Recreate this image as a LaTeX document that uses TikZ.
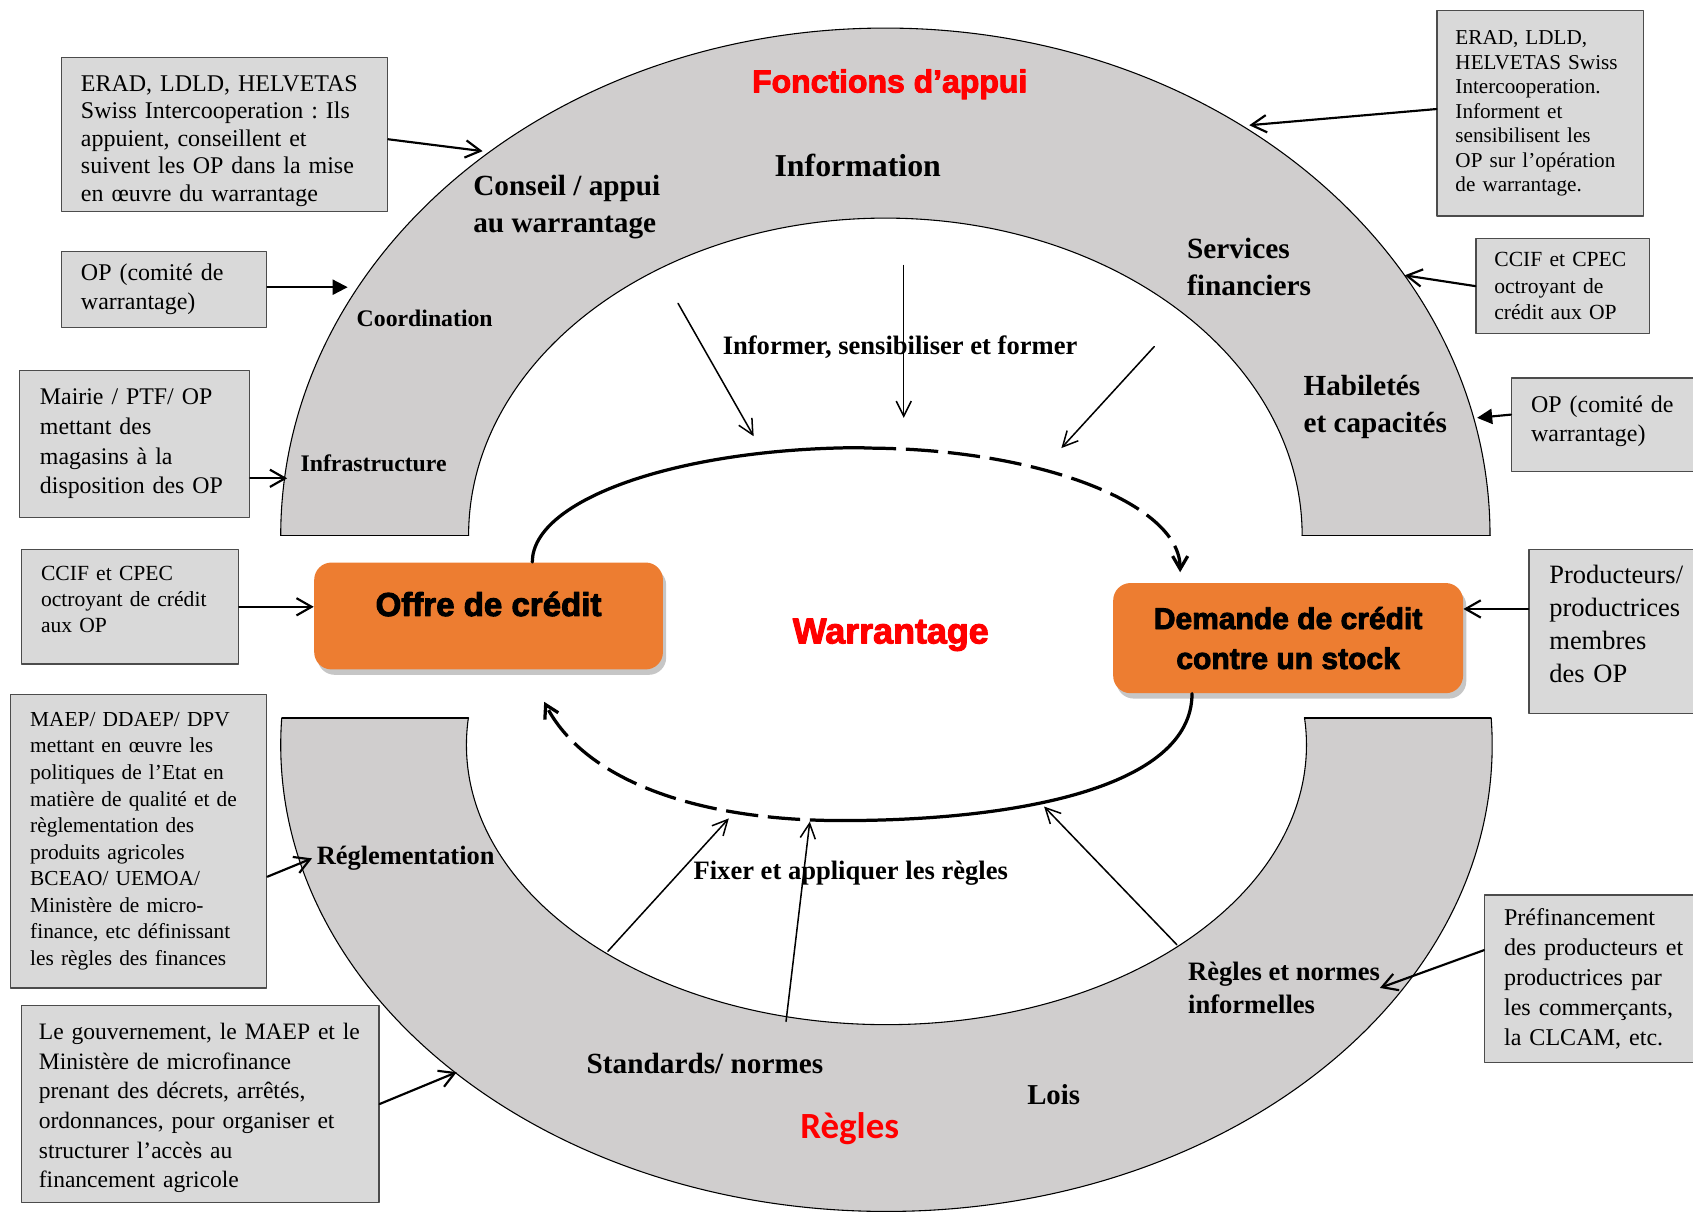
\documentclass[tikz,border=0pt]{standalone}
\usepackage{fontspec}
\setmainfont{Liberation Serif}
\newfontfamily\heavyfont[FakeBold=3]{Liberation Sans}
\newfontfamily\calibrifont{Carlito}
\usetikzlibrary{arrows.meta,shadows}
\definecolor{bandgray}{RGB}{208,206,206}
\definecolor{boxgray}{RGB}{217,217,217}
\definecolor{creditorange}{RGB}{237,125,49}
\newcommand\fsz[2]{\fontsize{#1}{#2}\selectfont}
\frenchspacing

\begin{document}
\begin{tikzpicture}[x=0.5pt, y=-0.5pt, line join=round, line cap=round,
	bandline/.style={line width=0.5pt},
	greybox/.style={draw=black!70, fill=boxgray, line width=0.6pt, align=left, inner xsep=9pt, inner ysep=0pt},
	creditbox/.style={fill=creditorange, rounded corners=8pt, align=center, inner sep=0pt,
		drop shadow={shadow xshift=1.5pt, shadow yshift=-2.5pt, opacity=0.45}},
	bandlabel/.style={anchor=west, align=left, inner sep=0pt},
	boxarrow/.style={-{Straight Barb[length=7pt,width=8pt]}, line width=1pt},
	fillhead/.style={-{Triangle[length=7pt,width=7pt]}},
	innerarrow/.style={-{Straight Barb[length=7pt,width=7pt]}, line width=0.7pt},
	cycleline/.style={line width=1.5pt},
	cycledash/.style={line width=1.5pt, line cap=butt, dash pattern=on 15pt off 4.5pt, -{Straight Barb[length=6pt,width=7pt]}}]
	\useasboundingbox (0,0) rectangle (1568,1122);
	\def\cxt{820} \def\cyt{496} \def\cxb{821} \def\cyb{690} % centres des deux bandes
	% bande du haut : fonctions d'appui
	\begin{scope}
		\clip (0,0) rectangle (1568,\cyt);
		\fill[bandgray, even odd rule] (\cxt,\cyt) ellipse[x radius=560, y radius=470] (\cxt,\cyt) ellipse[x radius=386, y radius=294];
		\draw[bandline] (\cxt,\cyt) ellipse[x radius=560, y radius=470] (\cxt,\cyt) ellipse[x radius=386, y radius=294];
	\end{scope}
	\draw[bandline] (260,\cyt)--(434,\cyt) (1206,\cyt)--(1380,\cyt);
	% bande du bas : regles
	\begin{scope}
		\clip (0,665) rectangle (1568,1122);
		\fill[bandgray, even odd rule] (\cxb,\cyb) ellipse[x radius=561, y radius=432] (\cxb,\cyb) ellipse[x radius=389, y radius=259];
		\draw[bandline] (\cxb,\cyb) ellipse[x radius=561, y radius=432] (\cxb,\cyb) ellipse[x radius=389, y radius=259];
	\end{scope}
	\draw[bandline] (261,665)--(434,665) (1208,665)--(1381,665);

	% offre et demande
	\node[creditbox, minimum width=161.5pt, minimum height=49.5pt, text height=8pt, text depth=8pt,
		font=\heavyfont\bfseries\fsz{15.3}{18}] (offre) at (452.5,570.5) {Offre de crédit};
	\node[creditbox, minimum width=162pt, minimum height=51pt, font=\heavyfont\bfseries\fsz{13.9}{18.5}] (demande) at (1193,591) {Demande de crédit\\contre un stock};

	% boites des acteurs
	\node[greybox, font=\fsz{11.1}{12.75}, minimum width=151pt, minimum height=71.5pt, text width=133pt] (erad1) at (208,124.5)
		{\mbox{}\\[0.75pt]ERAD, LDLD, HELVETAS\\Swiss Intercooperation : Ils\\appuient, conseillent et\\suivent les OP dans la mise\\en œuvre du warrantage};
	\node[greybox, font=\fsz{11.1}{13.5}, minimum width=95pt, minimum height=35pt, text width=77pt] (op1) at (152,268)
		{OP (comité de\\warrantage)};
	\node[greybox, font=\fsz{11.05}{13.85}, inner xsep=9.5pt, minimum width=106.5pt, minimum height=68pt, text width=87.5pt] (mairie) at (124.5,411)
		{Mairie / PTF/ OP\\mettant des\\magasins à la\\disposition des OP};
	\node[greybox, font=\fsz{10}{12}, minimum width=100.5pt, minimum height=53pt, text width=82.5pt] (ccif1) at (120.5,562)
		{CCIF et CPEC\\octroyant de crédit\\aux OP\\[-5pt]\mbox{}};
	\node[greybox, font=\fsz{9.9}{12.3}, minimum width=118.5pt, minimum height=136pt, text width=100.5pt] (maep) at (128.5,779)
		{MAEP/ DDAEP/ DPV\\mettant en œuvre les\\politiques de l’Etat en\\matière de qualité et de\\règlementation des\\produits agricoles\\BCEAO/ UEMOA/\\Ministère de micro-\\finance, etc définissant\\les règles des finances};
	\node[greybox, font=\fsz{10.9}{13.75}, inner xsep=8pt, minimum width=165.5pt, minimum height=91.5pt, text width=149.5pt] (gouv) at (185.5,1022.5)
		{\mbox{}\\[-2.45pt]Le gouvernement, le MAEP et le\\Ministère de microfinance\\prenant des décrets, arrêtés,\\ordonnances, pour organiser et\\structurer l’accès au\\financement agricole};
	\node[greybox, font=\fsz{9.8}{11.35}, inner xsep=8.5pt, minimum width=95.5pt, minimum height=95pt, text width=78.5pt] (erad2) at (1426.5,105)
		{ERAD, LDLD,\\HELVETAS Swiss\\Intercooperation.\\Informent et\\sensibilisent les\\OP sur l’opération\\de warrantage.};
	\node[greybox, font=\fsz{10}{12.25}, inner xsep=8.5pt, minimum width=80.5pt, minimum height=44pt, text width=63.5pt] (ccif2) at (1447.5,265)
		{CCIF et CPEC\\octroyant de\\crédit aux OP};
	\node[greybox, font=\fsz{11.1}{13.5}, minimum width=87.5pt, minimum height=43.5pt, text width=69.5pt] (op2) at (1487.5,393.5)
		{OP (comité de\\warrantage)\\[-7.5pt]\mbox{}};
	\node[greybox, font=\fsz{12.25}{15.3}, inner xsep=9.5pt, minimum width=92pt, minimum height=76pt, text width=73pt] (prod) at (1508,585)
		{Producteurs/\\productrices\\membres\\des OP\\[-8.3pt]\mbox{}};
	\node[greybox, font=\fsz{11.15}{13.9}, minimum width=112.5pt, minimum height=77.5pt, text width=94.5pt] (pref) at (1487.5,906.5)
		{Préfinancement\\des producteurs et\\productrices par\\les commerçants,\\la CLCAM, etc.};

	% textes des bandes
	\node[font=\heavyfont\bfseries\fsz{14.8}{17}, text=red] (fonctions) at (824,78) {Fonctions d’appui};
	\node[font=\heavyfont\bfseries\fsz{16.6}{19}, text=red] (warrantage) at (825,588) {Warrantage};
	\node[font=\calibrifont\bfseries\fsz{17.1}{20}, text=red] (regles) at (787,1045) {Règles};
	\node[bandlabel, font=\bfseries\fsz{14.75}{17}] (information) at (717,153) {Information};
	\node[bandlabel, font=\bfseries\fsz{13.55}{17}] (conseil) at (438,192) {Conseil / appui\\au warrantage};
	\node[bandlabel, font=\bfseries\fsz{11}{13}] (coordination) at (330,295) {Coordination};
	\node[bandlabel, font=\bfseries\fsz{11}{13}] (infrastructure) at (278,429) {Infrastructure};
	\node[bandlabel, font=\bfseries\fsz{13.6}{17}] (services) at (1099,247) {Services\\financiers};
	\node[bandlabel, font=\bfseries\fsz{13.5}{17}] (habiletes) at (1207,377) {Habiletés\\et capacités};
	\node[bandlabel, font=\bfseries\fsz{12.3}{14}] (informer) at (669,322) {Informer, sensibiliser et former};
	\node[bandlabel, font=\bfseries\fsz{12.25}{14}] (reglementation) at (293,795) {Réglementation};
	\node[bandlabel, font=\bfseries\fsz{12.3}{14}] (fixer) at (642,809) {Fixer et appliquer les règles};
	\node[bandlabel, font=\bfseries\fsz{13.55}{16}] (standards) at (543,985) {Standards/ normes};
	\node[bandlabel, font=\bfseries\fsz{13.35}{16}] (lois) at (951,1014) {Lois};
	\node[bandlabel, font=\bfseries\fsz{12.3}{15}] (informelles) at (1100,915) {Règles et normes\\informelles};

	% points d'arrivee sur les bandes
	\coordinate (c1) at (447,140); \coordinate (c2) at (322,266); \coordinate (c3) at (266,443);
	\coordinate (c5) at (289,795); \coordinate (c6) at (423,993); \coordinate (c7) at (1157,116);
	\coordinate (c8) at (1301,255); \coordinate (c9) at (1368,387); \coordinate (c11) at (1278,915);
	\draw[boxarrow] (erad1.east |- 0,129) -- (c1);
	\draw[boxarrow, fillhead] (c2 -| op1.east) -- (c2);
	\draw[boxarrow] (c3 -| mairie.east) -- (c3);
	\draw[boxarrow] (ccif1.east) -- (ccif1.east -| offre.west);
	\draw[boxarrow] (maep.east |- 0,812) -- (c5);
	\draw[boxarrow] (gouv.east) -- (c6);
	\draw[boxarrow] (erad2.west |- 0,101) -- (c7);
	\draw[boxarrow] (ccif2.west) -- (c8);
	\draw[boxarrow, fillhead] (op2.west |- 0,384) -- (c9);
	\draw[boxarrow] (prod.west |- 0,564) -- (demande.east |- 0,564);
	\draw[boxarrow] (pref.west |- 0,880) -- (c11);

	% fleches vers le cycle
	\foreach \i/\sx/\sy/\ex/\ey in {1/628/281/698/404, 2/837/246/837/387, 3/1069/321/983/415,
		4/563/881/675/758, 5/728/946/750/761, 6/1090/875/967/747}{
		\coordinate (from\i) at (\sx,\sy); \coordinate (to\i) at (\ex,\ey);
		\draw[innerarrow] (from\i) -- (to\i);
	}

	% cycle du warrantage
	\coordinate (looptop) at (800,415);
	\coordinate (loopbottom) at (780,760);
	\draw[cycleline] (offre.north -| 493,0) arc[start angle=180, end angle=270, x radius=307, y radius=106];
	\draw[cycledash] (looptop) arc[start angle=270, end angle=360, x radius=293, y radius=115];
	\draw[cycleline] (demande.south -| 1104,0) .. controls (1104,730) and (940,760) .. (loopbottom);
	\draw[cycledash] (loopbottom) .. controls (640,760) and (540,720) .. (504,650);
\end{tikzpicture}
\end{document}
